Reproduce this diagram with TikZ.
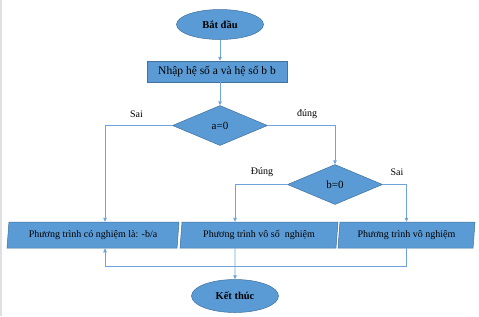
\documentclass[tikz,border=0pt]{standalone}
\usepackage{fontspec}
\setmainfont{Liberation Serif}
\usetikzlibrary{shapes.geometric,arrows.meta}
\definecolor{boxfill}{HTML}{5B9BD5}
\definecolor{boxedge}{HTML}{41719C}
\definecolor{linecol}{HTML}{6FA3DC}
\tikzset{
  base/.style={fill=boxfill, draw=boxedge, line width=0.5pt, inner sep=0pt, text=black},
  term/.style={base, ellipse, minimum width=87pt, minimum height=30pt, font=\fontsize{10.5}{12}\selectfont\bfseries},
  inbox/.style={base, rectangle, minimum width=140pt, minimum height=21pt, font=\fontsize{11.5}{13}\selectfont},
  decide/.style={base, diamond, minimum width=95pt, minimum height=40pt, font=\fontsize{11}{13}\selectfont},
  para/.style={base, trapezium, trapezium left angle=78, trapezium right angle=102, trapezium stretches body, minimum height=26pt, font=\fontsize{10}{12}\selectfont},
  lbl/.style={font=\fontsize{10}{12}\selectfont, inner sep=0pt},
  conn/.style={draw=linecol, line width=0.7pt},
  arr/.style={conn, -{Triangle[length=4pt,width=3.5pt]}}
}
\begin{document}
\begin{tikzpicture}[x=1pt,y=-1pt]
\useasboundingbox (0,0) rectangle (479,316);
\fill[white] (0,0) rectangle (479,316);
\draw[black!12, line width=1.5pt] (1,0) -- (1,316);

\node[term] (start) at (220,24.5) {Bắt đầu};
\node[inbox] (input) at (217,71.5) {Nhập hệ số a và hệ số b b};
\node[decide] (a0) at (220,125.5) {a=0};
\node[decide] (b0) at (335,184.5) {b=0};
\node[para, minimum width=172pt] (p1) at (93,235) {Phương trình có nghiệm là: -b/a};
\node[para, minimum width=158pt] (p2) at (259,235) {Phương trình vô số\ \ nghiệm};
\node[para, minimum width=137pt] (p3) at (406.5,235) {Phương trình vô nghiệm};
\node[term, minimum height=33pt] (end) at (235,296) {Kết thúc};

\node[lbl] (sai1) at (136.5,114) {Sai};
\node[lbl] (dung1) at (307,114) {đúng};
\node[lbl] (dung2) at (262,172) {Đúng};
\node[lbl] (sai2) at (397,172) {Sai};

\draw[arr] (start) -- (start |- input.north);
\draw[arr] (input.south -| a0.north) -- (a0.north);
\draw[arr] (a0.west) -| ([xshift=12pt]p1.north);
\draw[arr] (a0.east) -| (b0.north);
\draw[arr] (b0.west) -| ([xshift=-24pt]p2.north);
\draw[arr] (b0.east) -| (p3.north);
\draw[arr] ([xshift=-24pt]p2.south) -- (end.north);
\draw[arr] (p3.south) -- ++(0,18) -| ([xshift=12pt]p1.south);
\end{tikzpicture}
\end{document}
